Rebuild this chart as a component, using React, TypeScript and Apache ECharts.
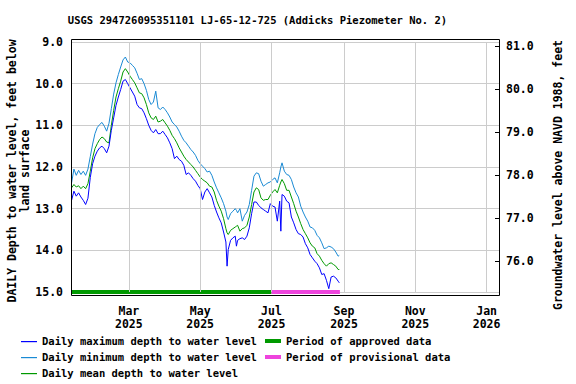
import React, { useEffect, useRef } from "react";
import * as echarts from "echarts";

const TITLE = "USGS 294726095351101 LJ-65-12-725 (Addicks Piezometer No. 2)";
const LEFT_NAME_1 = "DAILY Depth to water level, feet below";
const LEFT_NAME_2 = "land surface";
const RIGHT_NAME = "Groundwater level above NAVD 1988, feet";

// day offsets from 2025-01-01
const days = [
  10, 12, 14, 16, 18, 20, 22, 24, 26, 28,
  30, 32, 34, 36, 38, 40, 42, 44, 46, 48,
  50, 52, 54, 56, 58, 60, 62, 64, 66, 68,
  70, 72, 74, 76, 78, 80, 82, 84, 86, 88,
  90, 92, 94, 96, 98, 100, 102, 104, 106, 108,
  110, 112, 114, 116, 118, 120, 122, 124, 126, 128,
  130, 132, 134, 136, 138, 140, 142, 143, 144, 146,
  148, 150, 151, 152, 154, 156, 158, 160, 162, 164,
  166, 168, 170, 172, 174, 176, 178, 180, 182, 184,
  186, 188, 189, 190, 192, 194, 196, 198, 200, 202,
  204, 206, 208, 210, 212, 214, 216, 218, 220, 222,
  224, 226, 228, 230, 232, 234, 236, 238, 239,
];

const minDepth = [
  12.38, 12.05, 12.2, 12.08, 12.18, 12.1, 12.2, 12.05, 11.75, 11.45,
  11.2, 11.05, 10.98, 10.93, 11.02, 11.14, 10.95, 10.6, 10.25, 9.98,
  9.78, 9.6, 9.43, 9.36, 9.48, 9.5, 9.56, 9.62, 9.75, 9.9,
  9.88, 10.0, 10.16, 10.38, 10.5, 10.44, 10.18, 10.58, 10.62, 10.56,
  10.62, 10.7, 10.8, 10.92, 10.98, 11.04, 11.14, 11.26, 11.36, 11.42,
  11.5, 11.58, 11.64, 11.72, 11.84, 11.92, 11.98, 12.04, 12.12, 12.1,
  12.2, 12.36, 12.5, 12.62, 12.74, 12.88, 13.06, 13.2, 13.26, 13.12,
  13.06, 13.0, 13.04, 13.1, 13.0, 13.3, 13.16, 13.08, 12.9, 12.56,
  12.22, 12.14, 12.16, 12.34, 12.46, 12.42, 12.38, 12.36, 12.3, 12.26,
  12.38, 12.14, 12.0, 11.9, 12.1, 12.18, 12.2, 12.3, 12.48, 12.62,
  12.72, 12.94, 13.08, 13.2, 13.3, 13.44, 13.46, 13.52, 13.64, 13.7,
  13.82, 13.96, 13.94, 13.9, 13.92, 13.96, 14.04, 14.14, 14.12,
];

const meanDepth = [
  12.5, 12.42, 12.48, 12.45, 12.52, 12.46, 12.52, 12.4, 12.1, 11.78,
  11.56, 11.44, 11.34, 11.28, 11.32, 11.4, 11.42, 11.0, 10.64, 10.32,
  10.12, 9.94, 9.72, 9.64, 9.72, 9.82, 9.9, 9.98, 10.1, 10.22,
  10.24, 10.34, 10.5, 10.7, 10.82, 10.86, 10.78, 10.92, 10.9, 10.86,
  10.94, 11.02, 11.12, 11.24, 11.32, 11.42, 11.54, 11.64, 11.74, 11.82,
  11.88, 11.94, 12.0, 12.08, 12.16, 12.24, 12.3, 12.34, 12.38, 12.46,
  12.48, 12.6, 12.8, 12.94, 13.06, 13.24, 13.48, 13.58, 13.62, 13.52,
  13.48, 13.44, 13.42, 13.4, 13.54, 13.48, 13.46, 13.4, 13.2, 12.9,
  12.6, 12.5, 12.54, 12.74, 12.8, 12.78, 12.78, 12.68, 12.6, 12.54,
  12.62, 12.44, 12.36, 12.3, 12.4, 12.56, 12.56, 12.72, 12.88, 13.06,
  13.2, 13.36, 13.5, 13.6, 13.7, 13.82, 13.9, 13.94, 14.08, 14.14,
  14.24, 14.32, 14.38, 14.32, 14.3, 14.34, 14.38, 14.46, 14.46,
];

const maxDepth = [
  12.8, 12.58, 12.7, 12.62, 12.72, 12.8, 12.9, 12.75, 12.25, 11.92,
  11.74, 11.62, 11.54, 11.5, 11.56, 11.66, 11.5, 11.12, 10.82, 10.52,
  10.32, 10.14, 9.94, 9.9, 10.0, 10.1, 10.2, 10.3, 10.5, 10.58,
  10.6, 10.7, 10.84, 11.0, 11.12, 11.18, 11.1, 11.2, 11.2, 11.14,
  11.22, 11.3, 11.42, 11.56, 11.8, 11.74, 11.82, 11.86, 11.96, 12.18,
  12.14, 12.2, 12.28, 12.34, 12.44, 12.52, 12.78, 12.6, 12.52, 12.62,
  12.72, 12.92, 13.08, 13.22, 13.34, 13.56, 13.8, 14.38, 13.98, 13.76,
  13.7, 13.66, 13.9, 13.76, 13.72, 13.7, 13.74, 13.66, 13.46, 13.12,
  12.84, 12.84, 12.92, 12.98, 13.02, 13.06, 13.1, 12.88, 12.94, 12.96,
  13.3, 12.82, 13.54, 12.66, 12.7, 12.82, 12.86, 13.2, 13.34, 13.5,
  13.6, 13.62, 13.68, 13.84, 13.94, 14.1, 14.18, 14.26, 14.32, 14.42,
  14.58, 14.56, 14.72, 14.92, 14.64, 14.62, 14.66, 14.74, 14.78,
];

const monthTickDays = [59, 120, 181, 243, 304, 365];
const monthTickLabels = ["Mar\n2025", "May\n2025", "Jul\n2025", "Sep\n2025", "Nov\n2025", "Jan\n2026"];
const xRange = [9.5, 375.6];
const depthRange = [9, 15];
const elevationRange = [76, 81];
const approvedPeriod = [9.5, 181];
const provisionalPeriod = [181, 239.5];
const periodBarDepth = 15;

const legendLines = [
  { label: "Daily maximum depth to water level", color: "#0000ff" },
  { label: "Daily minimum depth to water level", color: "#1a8ad4" },
  { label: "Daily mean depth to water level", color: "#009900" },
];
const legendBars = [
  { label: "Period of approved data", color: "#009900" },
  { label: "Period of provisional data", color: "#ee44dd" },
];

const FONT = '"DejaVu Sans Mono", monospace';

export default function App() {
  const ref = useRef<HTMLDivElement>(null);

  useEffect(() => {
    if (!ref.current) return;
    const chart = echarts.init(ref.current, undefined, { renderer: "svg" });

    const axisText = { fontFamily: FONT, fontSize: 11.5, fontWeight: "bold", color: "#000" };
    const gText = (text: string, x: number, y: number, size: number, align = "left", rot = 0) => ({
      type: "text",
      x,
      y,
      rotation: rot,
      z: 100,
      style: {
        text,
        fill: "#000",
        font: `bold ${size}px ${FONT}`,
        align,
        verticalAlign: "middle",
      },
    });

    const graphics: any[] = [
      {
        type: "rect",
        z: 100,
        shape: { x: 71.5, y: 39.5, width: 428, height: 256 },
        style: { fill: "none", stroke: "#000", lineWidth: 1 },
      },
      gText(TITLE, 257.5, 20, 10.5, "center"),
      gText(LEFT_NAME_1, 12, 171, 11.5, "center", Math.PI / 2),
      gText(LEFT_NAME_2, 25, 171, 11.5, "center", Math.PI / 2),
      gText(RIGHT_NAME, 558, 175, 11.5, "center", Math.PI / 2),
    ];
    legendLines.forEach((l, i) => {
      const y = 341 + i * 16;
      graphics.push({
        type: "rect",
        z: 100,
        shape: { x: 21, y: y, width: 16, height: 1.2 },
        style: { fill: l.color, stroke: "none" },
      });
      graphics.push(gText(l.label, 42, y, 10.5));
    });
    legendBars.forEach((l, i) => {
      const y = 341 + i * 16;
      graphics.push({
        type: "rect",
        z: 100,
        shape: { x: 265, y: y - 2, width: 16, height: 4 },
        style: { fill: l.color, stroke: "none" },
      });
      graphics.push(gText(l.label, 286, y, 10.5));
    });

    const lineSeries = (name: string, values: number[], color: string) => ({
      name,
      type: "line",
      xAxisIndex: 0,
      yAxisIndex: 0,
      data: days.map((d, i) => [d, values[i]]),
      showSymbol: false,
      symbol: "none",
      lineStyle: { color, width: 1 },
      z: 2,
    });

    chart.setOption({
      animation: false,
      grid: [
        { left: 71, right: 77, top: 42, bottom: 92 },
        { left: 71, right: 77, top: 46, bottom: 123 },
      ],
      xAxis: [
        {
          gridIndex: 0,
          type: "value",
          min: xRange[0],
          max: xRange[1],
          axisLine: { show: false },
          axisTick: { show: false },
          splitLine: { show: false },
          axisLabel: {
            ...axisText,
            customValues: monthTickDays,
            margin: 12,
            lineHeight: 13,
            formatter: (v: number) => {
              const idx = monthTickDays.indexOf(Math.round(v));
              return idx >= 0 ? monthTickLabels[idx] : "";
            },
          },
        },
        { gridIndex: 1, type: "value", min: xRange[0], max: xRange[1], show: false },
      ],
      yAxis: [
        {
          gridIndex: 0,
          type: "value",
          inverse: true,
          min: depthRange[0],
          max: depthRange[1],
          interval: 1,
          axisLine: { show: false },
          axisTick: { show: false },
          splitLine: { show: true, lineStyle: { color: "#cccccc", width: 1 } },
          axisLabel: { ...axisText, margin: 8, formatter: (v: number) => v.toFixed(1) },
        },
        {
          gridIndex: 1,
          type: "value",
          position: "right",
          min: elevationRange[0],
          max: elevationRange[1],
          interval: 1,
          axisLine: { show: false },
          axisTick: { show: true, inside: true, length: 4, lineStyle: { color: "#000", width: 1 } },
          splitLine: { show: false },
          axisLabel: { ...axisText, margin: 7, formatter: (v: number) => v.toFixed(1) },
        },
      ],
      series: [
        {
          type: "line",
          xAxisIndex: 0,
          yAxisIndex: 0,
          data: [],
          z: 1,
          silent: true,
          markLine: {
            silent: true,
            symbol: ["none", "none"],
            label: { show: false },
            lineStyle: { color: "#cccccc", type: "solid", width: 1 },
            data: monthTickDays.map((d) => ({ xAxis: d })),
          },
        },
        {
          type: "line",
          xAxisIndex: 1,
          yAxisIndex: 1,
          data: [],
        },
        lineSeries("Daily minimum depth to water level", minDepth, legendLines[1].color),
        lineSeries("Daily mean depth to water level", meanDepth, legendLines[2].color),
        lineSeries("Daily maximum depth to water level", maxDepth, legendLines[0].color),
        {
          type: "line",
          xAxisIndex: 0,
          yAxisIndex: 0,
          data: approvedPeriod.map((d) => [d, periodBarDepth]),
          symbol: "none",
          clip: false,
          lineStyle: { color: legendBars[0].color, width: 4, cap: "butt" },
          z: 3,
        },
        {
          type: "line",
          xAxisIndex: 0,
          yAxisIndex: 0,
          data: provisionalPeriod.map((d) => [d, periodBarDepth]),
          symbol: "none",
          clip: false,
          lineStyle: { color: legendBars[1].color, width: 4, cap: "butt" },
          z: 3,
        },
      ],
      graphic: graphics,
    });

    return () => chart.dispose();
  }, []);

  return (
    <div
      ref={ref}
      style={{ position: "fixed", left: 0, top: 0, width: 576, height: 384, background: "#fff" }}
    />
  );
}
